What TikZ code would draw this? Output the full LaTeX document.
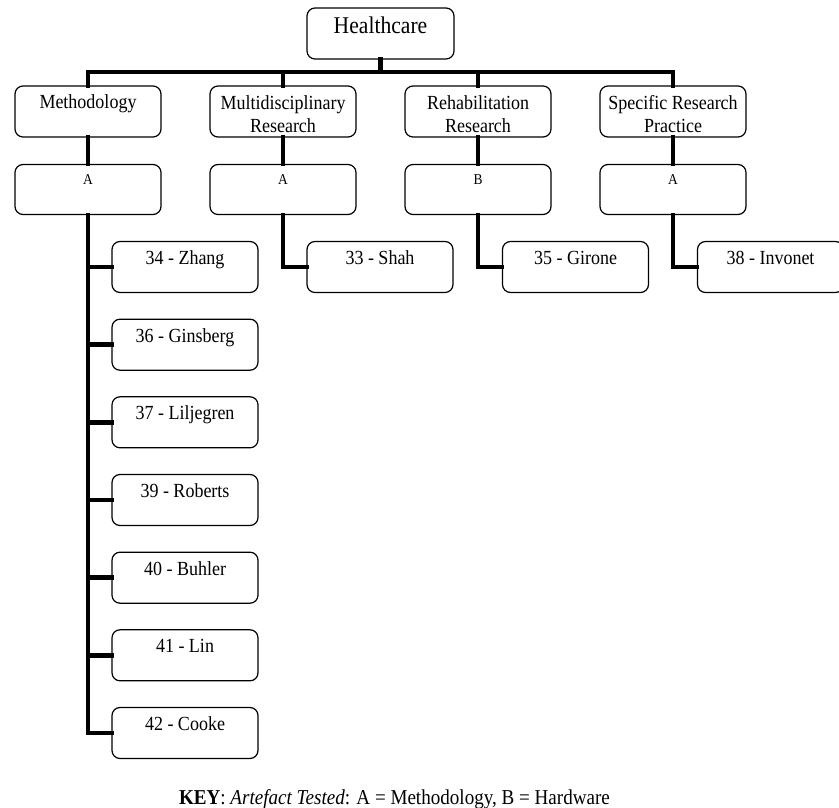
\documentclass[tikz,border=0pt]{standalone}
\usepackage{fontspec}
\setmainfont{Liberation Serif}[FakeStretch=0.9]
\begin{document}
\begin{tikzpicture}[x=1pt,y=-1pt,
  box/.style={draw, line width=1.2pt, rounded corners=8pt, inner sep=0pt,
    minimum width=146pt, align=center,
    font=\fontsize{20}{23}\selectfont, text height=23pt, text depth=28pt},
  twoline/.style={box, text height=46pt, text depth=5pt},
  rootbox/.style={box, minimum width=147pt,
    font=\fontsize{24}{28}\selectfont, text height=26pt, text depth=25pt},
  artbox/.style={box, font=\fontsize{15}{18}\selectfont,
    text height=20pt, text depth=30pt},
  conn/.style={line width=4.5pt, line cap=rect, line join=miter}]
\useasboundingbox (0,0) rectangle (839,808);

% root
\node[rootbox] (hc) at (380.5,33.5) {Healthcare};

% topic level
\node[box]     (meth)  at (88,111.5)  {Methodology};
\node[twoline] (multi) at (283,111.5) {Multidisciplinary\\Research};
\node[twoline] (rehab) at (478,111.5) {Rehabilitation\\Research};
\node[twoline] (spec)  at (673,111.5) {Specific Research\\Practice};

% artefact level
\node[artbox] (a1) at (88,189.5)  {A};
\node[artbox] (a2) at (283,189.5) {A};
\node[artbox] (a3) at (478,189.5) {B};
\node[artbox] (a4) at (673,189.5) {A};

% papers
\node[box] (p34) at (185,267)   {34 - Zhang};
\node[box] (p36) at (185,344.7) {36 - Ginsberg};
\node[box] (p37) at (185,422.3) {37 - Liljegren};
\node[box] (p39) at (185,500)   {39 - Roberts};
\node[box] (p40) at (185,577.7) {40 - Buhler};
\node[box] (p41) at (185,655.3) {41 - Lin};
\node[box] (p42) at (185,733)   {42 - Cooke};
\node[box] (p33) at (380,267)   {33 - Shah};
\node[box] (p35) at (575.5,267) {35 - Girone};
\node[box] (p38) at (770.5,267) {38 - Invonet};

% root to topics
\coordinate (bus) at (0,72);
\foreach \t in {meth,multi,rehab,spec}
  \draw[conn] (hc.south) -- (hc.south |- bus) -| (\t.north);

% topics to artefacts
\draw[conn] (meth.south)  -- (a1.north);
\draw[conn] (multi.south) -- (a2.north);
\draw[conn] (rehab.south) -- (a3.north);
\draw[conn] (spec.south)  -- (a4.north);

% artefacts to papers
\foreach \p in {p34,p36,p37,p39,p40,p41,p42}
  \draw[conn] (a1.south) |- (\p.west);
\draw[conn] (a2.south) |- (p33.west);
\draw[conn] (a3.south) |- (p35.west);
\draw[conn] (a4.south) |- (p38.west);

% key
\node[anchor=base, inner sep=0pt, font=\fontsize{21.2}{24}\selectfont] (key) at (394.5,804)
  {\textbf{KEY}: \textit{Artefact Tested}: A = Methodology, B = Hardware};
\end{tikzpicture}
\end{document}
